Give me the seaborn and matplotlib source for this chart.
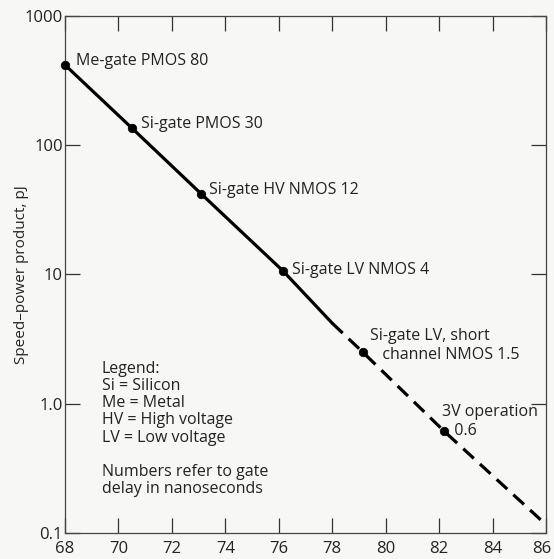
import matplotlib
matplotlib.use("Agg")
import matplotlib.pyplot as plt
import matplotlib.transforms as mtransforms
import seaborn as sns
import pandas as pd

# Device generations: year vs. speed-power product (pJ)
years = [68.0, 70.5, 73.1, 76.15, 79.15, 82.2]
energy_pj = [418, 136, 42, 10.7, 2.5, 0.61]
device_labels = [
    "Me-gate PMOS 80",
    "Si-gate PMOS 30",
    "Si-gate HV NMOS 12",
    "Si-gate LV NMOS 4",
    "Si-gate LV, short\n   channel NMOS 1.5",
    "3V operation\n   0.6",
]

# Trend line: measured (solid) and projected (dashed)
solid_years = [68.0, 70.5, 73.1, 76.15, 78.0]
solid_energy = [418, 136, 42, 10.7, 4.2]
dashed_years = [78.0, 79.15, 82.2, 86.0]
dashed_energy = [4.2, 2.5, 0.61, 0.116]

x_ticks = [68, 70, 72, 74, 76, 78, 80, 82, 84, 86]
y_ticks = [0.1, 1.0, 10, 100, 1000]
y_tick_labels = ["0.1", "1.0", "10", "100", "1000"]

legend_lines = [
    "Legend:",
    "Si = Silicon",
    "Me = Metal",
    "HV = High voltage",
    "LV = Low voltage",
    "",
    "Numbers refer to gate",
    "delay in nanoseconds",
]

sns.set_style("ticks")
plt.rcParams["font.family"] = ["Open Sans", "DejaVu Sans"]

bg = "#f7f7f5"
ink = "#222222"
fig = plt.figure(figsize=(5.54, 5.59), dpi=100, facecolor=bg)
ax = fig.add_axes([0.1173, 0.0465, 0.8683, 0.9249])
ax.set_facecolor(bg)

solid_df = pd.DataFrame({"year": solid_years, "pj": solid_energy})
dashed_df = pd.DataFrame({"year": dashed_years, "pj": dashed_energy})
points_df = pd.DataFrame({"year": years, "pj": energy_pj})

sns.lineplot(data=solid_df, x="year", y="pj", ax=ax, color="black",
             linewidth=2.3, sort=False, estimator=None)
sns.lineplot(data=dashed_df, x="year", y="pj", ax=ax, color="black",
             linewidth=2.3, sort=False, estimator=None)
ax.lines[-1].set_dashes([4.5, 2.6])
sns.scatterplot(data=points_df, x="year", y="pj", ax=ax, color="black",
                s=38, edgecolor="black", zorder=5, clip_on=False)

ax.set_yscale("log")
ax.set_xlim(68, 86)
ax.set_ylim(0.1, 1000)
ax.set_xticks(x_ticks)
ax.set_xticklabels([str(t) for t in x_ticks])
ax.set_yticks(y_ticks)
ax.set_yticklabels(y_tick_labels)
ax.minorticks_off()
ax.tick_params(which="major", direction="in", length=11, width=0.9,
               color="#333333", labelsize=12, labelcolor=ink,
               top=True, right=True)
ax.tick_params(axis="x", pad=5.5)
ax.tick_params(axis="y", pad=1.5)
ax.set_xlabel("")
ax.set_ylabel("Speed\u2013power product, pJ", fontsize=11, color=ink)
ax.yaxis.set_label_coords(-0.074, 0.5)

# keep the last year label inside the canvas
last = ax.get_xticklabels()[-1]
last.set_transform(last.get_transform()
                   + mtransforms.ScaledTranslation(-4 / 100, 0, fig.dpi_scale_trans))

for side in ["left", "right", "top", "bottom"]:
    ax.spines[side].set_visible(True)
    ax.spines[side].set_linewidth(0.9)
    ax.spines[side].set_color("#444444")

# Device annotations, offset from each marker in pixels
offsets = [(11, 4), (9, 4), (8, 4), (9, 1), (7, 7), (-2, 10)]
for x, y, label, (dx, dy) in zip(years, energy_pj, device_labels, offsets):
    ax.annotate(label, (x, y), xytext=(dx, dy), textcoords="offset pixels",
                fontsize=11.5, color=ink, va="center", ha="left",
                linespacing=1.3)

ax.text(0.076, 0.333, "\n".join(legend_lines), transform=ax.transAxes,
        fontsize=11.5, color=ink, va="top", ha="left", linespacing=1.1)

fig.savefig("out.png", dpi=100, facecolor=bg)
